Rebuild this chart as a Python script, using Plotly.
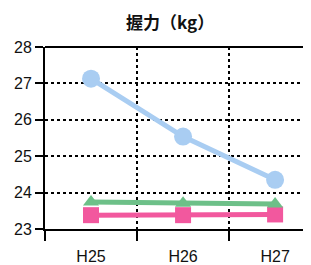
import plotly.graph_objects as go

categories = ["H25", "H26", "H27"]
blue_vals = [27.13, 25.54, 24.35]
green_vals = [23.74, 23.71, 23.69]
pink_vals = [23.38, 23.38, 23.40]
x_idx = list(range(len(categories)))

fig = go.Figure()
fig.add_trace(go.Scatter(x=x_idx, y=pink_vals, mode="lines+markers",
                         line=dict(color="#F2589E", width=5),
                         marker=dict(symbol="square", size=16, color="#F2589E")))
fig.add_trace(go.Scatter(x=x_idx, y=green_vals, mode="lines+markers",
                         line=dict(color="#6DC088", width=5),
                         marker=dict(symbol="triangle-up", size=14, color="#6DC088")))
fig.add_trace(go.Scatter(x=x_idx, y=blue_vals, mode="lines+markers",
                         line=dict(color="#A9CDF2", width=5),
                         marker=dict(symbol="circle", size=18, color="#A9CDF2")))

fig.update_layout(
    width=303, height=257,
    margin=dict(l=37, r=0, t=39, b=36),
    paper_bgcolor="white", plot_bgcolor="white",
    showlegend=False,
    font=dict(family="Noto Sans CJK JP, Liberation Sans, Arial", color="#111"),
    title=dict(text="<b>握力（kg）</b>", x=0.535, xanchor="center", xref="container",
               y=0.94, yanchor="middle",
               font=dict(size=17, color="#111")),
    xaxis=dict(range=[-0.5, 2.39], tickvals=x_idx, ticktext=categories,
               showgrid=False, zeroline=False, ticks="",
               showline=True, linecolor="black", linewidth=2,
               ticklabelstandoff=12,
               tickfont=dict(size=16, family="Liberation Sans, Arial"),
               minor=dict(tick0=-0.5, dtick=1, ticks="outside", ticklen=10,
                          tickwidth=2, tickcolor="black",
                          showgrid=True, gridcolor="black", gridwidth=2, griddash="dot")),
    yaxis=dict(range=[23, 28], dtick=1, showline=True, linecolor="black", linewidth=2,
               ticks="outside", ticklen=8, tickwidth=2, tickcolor="black",
               showgrid=True, gridcolor="black", gridwidth=2, griddash="dot",
               zeroline=False,
               tickfont=dict(size=16, family="Liberation Sans, Arial")),
    shapes=[dict(type="line", xref="paper", yref="paper", x0=0, x1=1, y0=1, y1=1,
                 line=dict(color="black", width=2))],
)

fig.write_html("out.html")
